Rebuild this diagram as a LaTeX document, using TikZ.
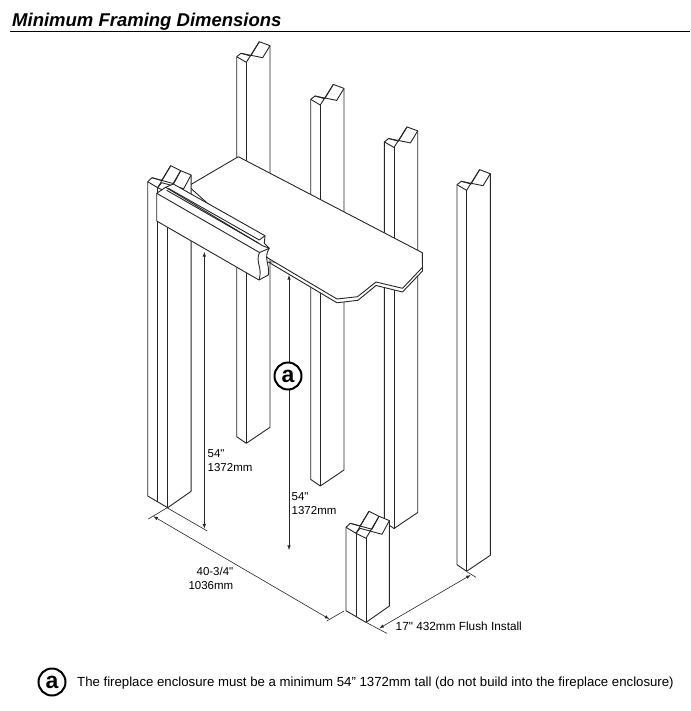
\documentclass[tikz,border=0pt]{standalone}
\usepackage{fontspec}
\setmainfont{Liberation Sans}
\newfontfamily\dimfont{Liberation Sans}
\tikzset{
  framing/.style={draw=black!85,fill=white,line width=.9pt,line join=round},
  capline/.style={draw=black!85,line width=.9pt,line join=round},
  dimline/.style={draw=black!85,line width=.6pt},
  dimarrow/.style={dimline,latex-latex},
  dimtext/.style={font=\dimfont\fontsize{11.5}{14.5}\selectfont,align=left,inner sep=0pt},
  callout/.style={circle,draw=black,fill=white,line width=2pt,minimum size=27pt,inner sep=0pt,font=\fontsize{23}{23}\selectfont\bfseries}
}
% one stud, drawn from its top left corner
\newcommand{\singlestud}[2]{
\begin{scope}[shift={(#1,#2)}]
\draw[framing] (0,0) -- (0,380) -- (9.6,386.6) -- (33.3,370.6) -- (33.3,-11) -- (22.6,-15) -- (14,-.7) -- (4.3,-3.4) -- cycle;
\draw[capline] (22.6,-15) -- (9.6,5.6) -- (0,0);
\draw[capline] (4.3,-3.4) -- (26,1) -- (33.3,-11);
\draw[capline] (9.6,5.6) -- (9.6,386.6);
\end{scope}}
% two studs side by side, third argument is the height
\newcommand{\doublestud}[3]{
\begin{scope}[shift={(#1,#2)}]
\draw[framing] (0,0) -- (0,#3) -- (20,#3+11.7) -- (43.4,#3-4.7) -- (43.4,-6.7) -- (33,-11) -- (23,-16) -- (14,-1.3) -- (4.3,-4) -- cycle;
\draw[capline] (23,-16) -- (10,6) -- (0,0);
\draw[capline] (4.3,-4) -- (26,2);
\draw[capline] (10,6) -- (14,1) -- (36,7) -- (43.4,-6.7);
\draw[capline] (33,-11) -- (20,11) -- (10,6);
\draw[capline] (26,2) -- (33,-11);
\draw[capline] (10,6) -- (10,#3+6);
\draw[capline] (20,11) -- (20,#3+11.7);
\end{scope}}
\begin{document}
\begin{tikzpicture}[x=1pt,y=-1pt]
\useasboundingbox (0,0) rectangle (690,711);
% heading
\node[anchor=base west,inner sep=0pt,font=\fontsize{18.5}{20}\selectfont\bfseries\itshape] (heading) at (12,26.5) {Minimum Framing Dimensions};
\coordinate (ruleleft) at (10,31.5);
\coordinate (ruleright) at (690,31.5);
\draw[line width=1pt] (ruleleft) -- (ruleright);
% back studs
\singlestud{457}{184.7}
\singlestud{384.4}{141.9}
\singlestud{310.7}{99.4}
\singlestud{236.7}{56.7}
% shelf
\draw[framing] (268.3,262) -- (337,302.8) -- (358,300.3) -- (376,285.5) -- (402.5,292) -- (422.5,271) -- (422.5,262) -- cycle;
\draw[framing] (188.3,186) -- (238.3,156.7) -- (422.3,252.7) -- (422.5,267.3) -- (402.5,288.3) -- (376,282) -- (357.5,296.7) -- (337,299) -- (268.3,258.3) -- cycle;
% corner studs
\doublestud{147.7}{181.7}{314.3}
% lintel
\draw[framing] (156.7,193.3) -- (165.7,187.3) -- (173.3,184) -- (265,235.7) -- (264.3,243.3) -- (269.3,248.3) .. controls (263,258) and (270,264) .. (268.3,275) -- (259,280) -- (156.7,221) -- cycle;
\draw[capline] (156.7,193.3) -- (259.5,252.5) .. controls (255,262) and (263,268) .. (259,280);
\draw[capline] (165.7,187.3) -- (262.7,245.8) -- (269.3,248.3);
\draw[capline] (259.5,252.5) -- (269.3,248.3);
\draw[capline] (168.3,188.3) -- (259.3,240);
\draw[capline] (166.7,190.3) -- (258.3,243);
\draw[capline] (259.3,240) -- (265,235.7);
% dimension lines
\coordinate (widthA) at (148.3,519);
\coordinate (widthB) at (166.7,508);
\coordinate (heightA) at (167,507.7);
\coordinate (heightB) at (207.3,531);
\coordinate (widthC) at (326.7,621);
\coordinate (widthD) at (344,611);
\coordinate (depthA) at (366,622.3);
\coordinate (depthB) at (386.7,633.3);
\coordinate (depthC) at (466.7,571.7);
\coordinate (depthD) at (476,577.3);
\draw[dimline] (widthA) -- (widthB);
\draw[dimline] (heightA) -- (heightB);
\draw[dimline] (widthC) -- (widthD);
\draw[dimline] (depthA) -- (depthB);
\draw[dimline] (depthC) -- (depthD);
\coordinate (arrowA) at (153.3,516.3);
\coordinate (arrowB) at (329.3,619);
\draw[dimarrow] (arrowA) -- (arrowB);
\coordinate (arrowC) at (379.3,628.3);
\coordinate (arrowD) at (470.7,575);
\draw[dimarrow] (arrowC) -- (arrowD);
\coordinate (arrowE) at (204.3,252);
\coordinate (arrowF) at (204.3,528.5);
\draw[dimarrow] (arrowE) -- (arrowF);
\coordinate (arrowG) at (289,275);
\coordinate (arrowH) at (289,550);
\draw[dimarrow] (arrowG) -- (arrowH);
% front stud
\doublestud{346}{527.3}{83.4}
% labels
\node[callout] (mark) at (288,376) {a};
\node[dimtext,anchor=west] (height1) at (207.5,460.5) {54"\\1372mm};
\node[dimtext,anchor=west] (height2) at (291.5,503.5) {54"\\1372mm};
\node[dimtext,anchor=east,align=right] (width) at (233.5,578.5) {40-3/4"\\1036mm};
\node[dimtext,anchor=base west,font=\dimfont\fontsize{11.8}{14}\selectfont] (depth) at (395.5,630) {17" 432mm Flush Install};
\node[callout] (markkey) at (52,682) {a};
\node[anchor=base west,inner sep=0pt,font=\fontsize{13.2}{15}\selectfont] (note) at (77,686) {The fireplace enclosure must be a minimum 54” 1372mm tall (do not build into the fireplace enclosure)};
\end{tikzpicture}
\end{document}
